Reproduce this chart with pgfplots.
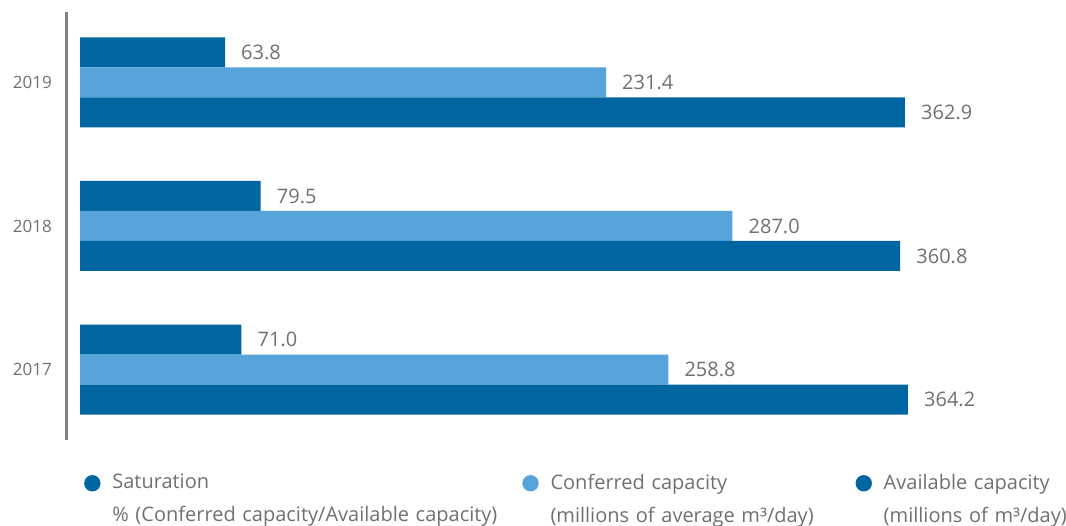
\documentclass[border=0pt]{standalone}
\usepackage{fontspec}
\setmainfont{Open Sans}
\usepackage{pgfplots}
\pgfplotsset{compat=1.18}
\definecolor{dkblue}{HTML}{0066A1}
\definecolor{ltblue}{HTML}{57A4DA}
\definecolor{txtgray}{HTML}{707070}
\definecolor{axgray}{HTML}{808080}
\begin{document}
\begin{tikzpicture}[x=1pt,y=1pt]
\path[use as bounding box] (0,0) rectangle (1066,-526);
\begin{axis}[
  at={(66pt,-440pt)}, anchor=south west,
  scale only axis, width=934pt, height=428pt,
  xmin=-6.16, xmax=404.7, ymin=-0.49, ymax=2.49,
  axis x line=none,
  axis y line*=left,
  y axis line style={draw=axgray, line width=3pt},
  ytick={0,1,2}, yticklabels={2017,2018,2019},
  major tick length=0pt,
  yticklabel style={font=\fontsize{17}{20}\selectfont, text=txtgray, inner sep=0pt, xshift=-14pt},
  xbar, bar width=30pt,
  nodes near coords,
  point meta=x,
  nodes near coords style={font=\fontsize{20}{24}\selectfont, text=txtgray, anchor=west, inner sep=0pt, xshift=16pt,
    /pgf/number format/.cd, fixed, fixed zerofill, precision=1, assume math mode=true},
  legend columns=3,
  legend style={at={(0.016,-0.074)}, anchor=north west, draw=none, fill=none,
    nodes={inner sep=0pt, align=left, text=txtgray, font=\fontsize{20}{33}\selectfont},
    column sep=0pt},
]
\addplot[fill=dkblue, draw=none, bar shift=30pt,
  legend image code/.code={\path[fill=none,draw=none] (0pt,-9pt) rectangle (28pt,7pt); \fill[dkblue] (8pt,-1pt) circle (8.2pt);}]
  coordinates {(71.0,0) (79.5,1) (63.8,2)};
\addlegendentry[text width=410pt]{Saturation\\\% (Conferred capacity/Available capacity)}
\addplot[fill=ltblue, draw=none, bar shift=0pt,
  legend image code/.code={\path[fill=none,draw=none] (0pt,-9pt) rectangle (28pt,7pt); \fill[ltblue] (8pt,-1pt) circle (8.2pt);}]
  coordinates {(258.8,0) (287.0,1) (231.4,2)};
\addlegendentry[text width=305pt]{Conferred capacity\\(millions of average m³/day)}
\addplot[fill=dkblue, draw=none, bar shift=-30pt,
  legend image code/.code={\path[fill=none,draw=none] (0pt,-9pt) rectangle (28pt,7pt); \fill[dkblue] (8pt,-1pt) circle (8.2pt);}]
  coordinates {(364.2,0) (360.8,1) (362.9,2)};
\addlegendentry[text width=185pt]{Available capacity\\(millions of m³/day)}
\end{axis}
\end{tikzpicture}
\end{document}
